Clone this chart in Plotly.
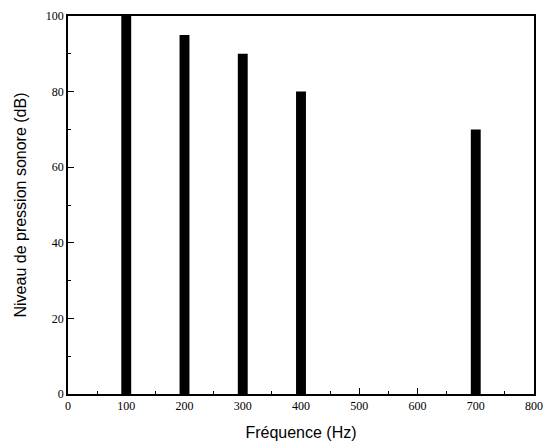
import plotly.graph_objects as go

freqs = [100, 200, 300, 400, 700]
levels = [100, 95, 90, 80, 70]
x_ticks = [0, 100, 200, 300, 400, 500, 600, 700, 800]
y_ticks = [0, 20, 40, 60, 80, 100]

fig = go.Figure()
fig.add_trace(go.Bar(x=freqs, y=levels, width=17, marker=dict(color="black", line=dict(width=0))))

tickfont = dict(family="Liberation Serif", size=12, color="black")
titlefont = dict(family="Liberation Sans", size=16, color="black")

fig.update_layout(
    width=548, height=446,
    margin=dict(l=68, r=14, t=16, b=52, autoexpand=False),
    paper_bgcolor="white", plot_bgcolor="white",
    showlegend=False,
    xaxis=dict(
        range=[0, 800], tickvals=x_ticks, ticks="inside", ticklen=6, tickwidth=1.3,
        tickcolor="black", showline=True, linecolor="black", linewidth=1.5, mirror=True,
        showgrid=False, zeroline=False, tickfont=tickfont, automargin=False,
        minor=dict(dtick=50, ticks="inside", ticklen=3, tickcolor="black", tickwidth=1.3, showgrid=False),
        title=dict(text="Fréquence (Hz)", font=titlefont),
    ),
    yaxis=dict(
        range=[0, 100], tickvals=y_ticks, ticks="inside", ticklen=6, tickwidth=1.3,
        tickcolor="black", showline=True, linecolor="black", linewidth=1.5, mirror=True,
        showgrid=False, zeroline=False, tickfont=tickfont, automargin=False,
        minor=dict(dtick=10, ticks="inside", ticklen=3, tickcolor="black", tickwidth=1.3, showgrid=False),
        title=dict(text="Niveau de pression sonore (dB)", font=titlefont),
    ),
)

fig.write_html("out.html", config={"displayModeBar": False},
               post_script="document.body.style.margin='0';document.body.style.overflow='hidden';")
